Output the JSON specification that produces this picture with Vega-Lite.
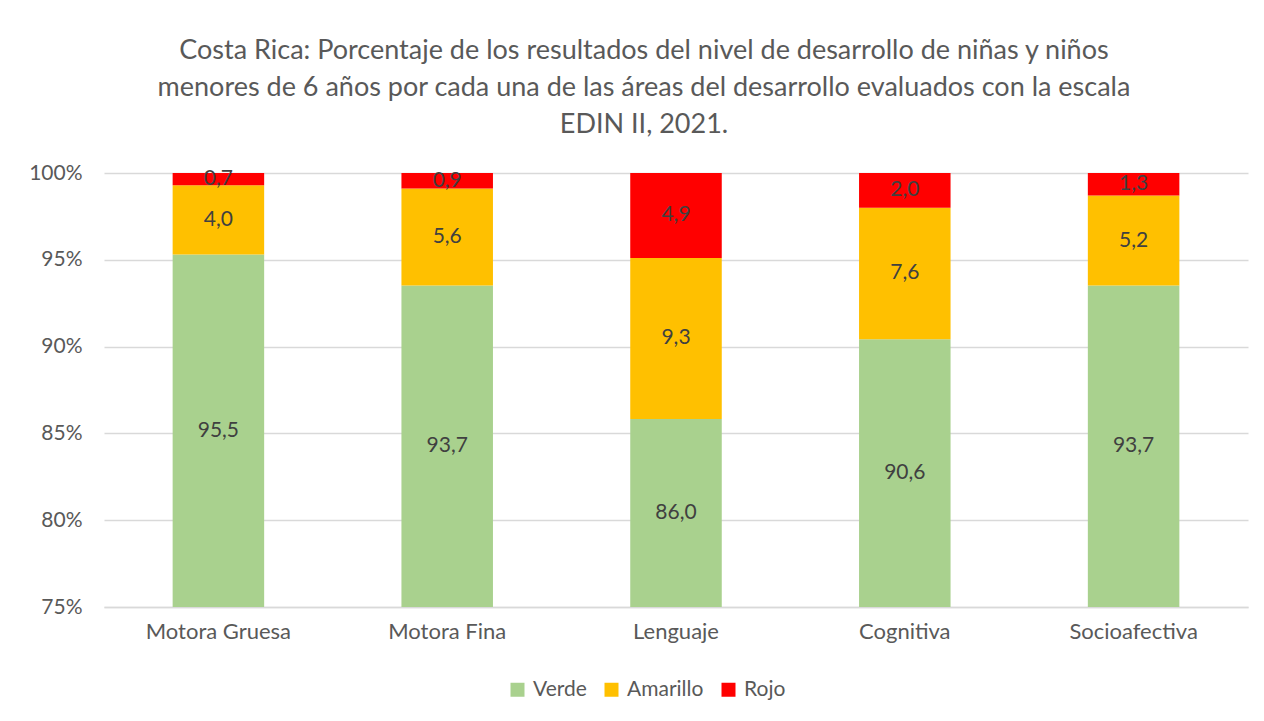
{
  "$schema": "https://vega.github.io/schema/vega-lite/v6.json",
  "width": 1144,
  "height": 434,
  "autosize": {"type": "none"},
  "padding": {"left": 104, "top": 173, "right": 16, "bottom": 114},
  "background": "white",
  "config": {
    "font": "Lato",
    "view": {"stroke": null},
    "locale": {"number": {"decimal": ",", "thousands": ".", "grouping": [3], "currency": ["", ""]}}
  },
  "title": {
    "text": [
      "Costa Rica: Porcentaje de los resultados del nivel de desarrollo de niñas y niños",
      "menores de 6 años por cada una de las áreas del desarrollo evaluados con la escala",
      "EDIN II, 2021."
    ],
    "font": "Lato",
    "fontSize": 27,
    "fontWeight": "normal",
    "color": "#595959",
    "lineHeight": 37,
    "anchor": "middle",
    "frame": "group",
    "dx": -32,
    "offset": 23
  },
  "data": {
    "values": [
      {"area": "Motora Gruesa", "nivel": "Verde", "orden": 1, "valor": 95.5},
      {"area": "Motora Gruesa", "nivel": "Amarillo", "orden": 2, "valor": 4.0},
      {"area": "Motora Gruesa", "nivel": "Rojo", "orden": 3, "valor": 0.7},
      {"area": "Motora Fina", "nivel": "Verde", "orden": 1, "valor": 93.7},
      {"area": "Motora Fina", "nivel": "Amarillo", "orden": 2, "valor": 5.6},
      {"area": "Motora Fina", "nivel": "Rojo", "orden": 3, "valor": 0.9},
      {"area": "Lenguaje", "nivel": "Verde", "orden": 1, "valor": 86.0},
      {"area": "Lenguaje", "nivel": "Amarillo", "orden": 2, "valor": 9.3},
      {"area": "Lenguaje", "nivel": "Rojo", "orden": 3, "valor": 4.9},
      {"area": "Cognitiva", "nivel": "Verde", "orden": 1, "valor": 90.6},
      {"area": "Cognitiva", "nivel": "Amarillo", "orden": 2, "valor": 7.6},
      {"area": "Cognitiva", "nivel": "Rojo", "orden": 3, "valor": 2.0},
      {"area": "Socioafectiva", "nivel": "Verde", "orden": 1, "valor": 93.7},
      {"area": "Socioafectiva", "nivel": "Amarillo", "orden": 2, "valor": 5.2},
      {"area": "Socioafectiva", "nivel": "Rojo", "orden": 3, "valor": 1.3}
    ]
  },
  "transform": [
    {"stack": "valor", "groupby": ["area"], "sort": [{"field": "orden", "order": "ascending"}], "offset": "normalize", "as": ["y0", "y1"]},
    {"calculate": "(max(datum.y0, 0.75) + min(datum.y1, 1)) / 2", "as": "ymid"}
  ],
  "encoding": {
    "x": {
      "field": "area",
      "type": "nominal",
      "sort": ["Motora Gruesa", "Motora Fina", "Lenguaje", "Cognitiva", "Socioafectiva"],
      "scale": {"paddingInner": 0.6, "paddingOuter": 0.3},
      "axis": {
        "title": null,
        "labelAngle": 0,
        "labelFontSize": 22,
        "labelColor": "#595959",
        "labelPadding": 14,
        "ticks": false,
        "domainColor": "#D9D9D9",
        "domainWidth": 1.5
      }
    }
  },
  "layer": [
    {
      "mark": {"type": "bar", "clip": true},
      "encoding": {
        "y": {
          "field": "y1",
          "type": "quantitative",
          "scale": {"domain": [0.75, 1], "zero": false, "nice": false},
          "axis": {
            "title": null,
            "format": ".0%",
            "values": [0.75, 0.8, 0.85, 0.9, 0.95, 1],
            "domain": false,
            "ticks": false,
            "labelFontSize": 21,
            "labelColor": "#595959",
            "labelPadding": 22,
            "gridColor": "#D9D9D9",
            "gridWidth": 1.5
          }
        },
        "y2": {"field": "y0"},
        "color": {
          "field": "nivel",
          "type": "nominal",
          "scale": {"domain": ["Verde", "Amarillo", "Rojo"], "range": ["#A9D18E", "#FFC000", "#FF0000"]},
          "legend": {
            "title": null,
            "orient": "none",
            "direction": "horizontal",
            "legendX": 403,
            "legendY": 506,
            "symbolType": "square",
            "symbolSize": 196,
            "symbolStrokeWidth": 0,
            "labelFontSize": 21,
            "labelColor": "#595959",
            "labelOffset": 5,
            "columnPadding": 14
          }
        }
      }
    },
    {
      "mark": {"type": "text", "fontSize": 21, "color": "#404040", "baseline": "middle", "align": "center"},
      "encoding": {
        "y": {"field": "ymid", "type": "quantitative"},
        "text": {"field": "valor", "type": "quantitative", "format": ".1f"}
      }
    }
  ]
}
